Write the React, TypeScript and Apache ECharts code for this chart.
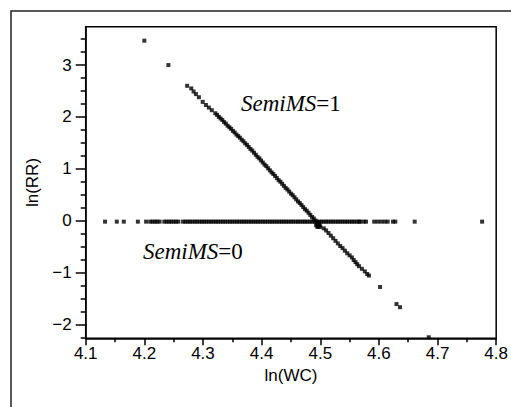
import React, { useEffect, useRef } from 'react';
import * as echarts from 'echarts';

// SemiMS = 0 : points lying on ln(RR) ≈ 0
const semi0Level = -0.02;
const semi0X = [
  4.133, 4.153, 4.165, 4.189, 4.203,
  4.210, 4.214, 4.218, 4.222, 4.226, 4.234, 4.238, 4.242, 4.246, 4.250, 4.254, 4.258,
  4.266, 4.270, 4.274, 4.278, 4.282, 4.286, 4.290, 4.294, 4.298, 4.302, 4.306, 4.310,
  4.314, 4.318, 4.322, 4.326, 4.330, 4.334, 4.338, 4.342, 4.346, 4.350, 4.354, 4.358,
  4.362, 4.366, 4.370, 4.374, 4.378, 4.382, 4.386, 4.390, 4.394, 4.398, 4.402, 4.406,
  4.410, 4.414, 4.418, 4.422, 4.426, 4.430, 4.434, 4.438, 4.442, 4.446, 4.450, 4.454,
  4.458, 4.462, 4.466, 4.470, 4.474, 4.478, 4.482, 4.486, 4.490, 4.494, 4.498, 4.502,
  4.506, 4.510, 4.514, 4.518, 4.522, 4.526, 4.530, 4.534, 4.538, 4.542, 4.546, 4.550,
  4.554, 4.558, 4.562, 4.566, 4.568,
  4.574, 4.578, 4.592, 4.598, 4.604, 4.610, 4.615, 4.624, 4.628, 4.661, 4.776,
];

// SemiMS = 1 : points on the descending line [ln(WC), ln(RR)]
const semi1Points: [number, number][] = [
  [4.200, 3.47], [4.241, 3.00],
  [4.273, 2.60], [4.280, 2.55], [4.284, 2.49], [4.288, 2.44], [4.293, 2.38], [4.2995, 2.29],
  [4.305, 2.23], [4.310, 2.18], [4.315, 2.13], [4.321, 2.07],
  [4.324, 2.04], [4.327, 2.00], [4.330, 1.97], [4.333, 1.94], [4.336, 1.90], [4.339, 1.87],
  [4.342, 1.83], [4.345, 1.80], [4.348, 1.77], [4.351, 1.73], [4.354, 1.70], [4.357, 1.66],
  [4.360, 1.63], [4.363, 1.60], [4.366, 1.56], [4.369, 1.53], [4.372, 1.49], [4.375, 1.46],
  [4.378, 1.42], [4.381, 1.38], [4.384, 1.35], [4.387, 1.31], [4.390, 1.27], [4.393, 1.23],
  [4.396, 1.20], [4.399, 1.16], [4.402, 1.12], [4.405, 1.08], [4.408, 1.05], [4.411, 1.01],
  [4.414, 0.97], [4.417, 0.93], [4.420, 0.90], [4.423, 0.86], [4.426, 0.82], [4.429, 0.78],
  [4.432, 0.75], [4.435, 0.71], [4.438, 0.67], [4.441, 0.63], [4.444, 0.60], [4.447, 0.56],
  [4.450, 0.52], [4.453, 0.49], [4.456, 0.45], [4.459, 0.41], [4.462, 0.37], [4.465, 0.34],
  [4.468, 0.30], [4.471, 0.26], [4.474, 0.22], [4.477, 0.19], [4.480, 0.15], [4.483, 0.11],
  [4.486, 0.07], [4.489, 0.04], [4.492, 0.00],
  [4.494, -0.05], [4.496, -0.09], [4.497, -0.12], [4.499, -0.09], [4.495, -0.12], [4.498, -0.05],
  [4.500, -0.12], [4.493, -0.09],
  [4.506, -0.15], [4.510, -0.19], [4.514, -0.24], [4.518, -0.29], [4.522, -0.34], [4.526, -0.39],
  [4.530, -0.44], [4.534, -0.49], [4.538, -0.53], [4.542, -0.58], [4.546, -0.63], [4.550, -0.67],
  [4.554, -0.71], [4.557, -0.76], [4.560, -0.80], [4.563, -0.84], [4.566, -0.88], [4.571, -0.93],
  [4.576, -0.98], [4.580, -1.03], [4.583, -1.06],
  [4.602, -1.28], [4.630, -1.61], [4.636, -1.67], [4.685, -2.25],
];

const xMin = 4.1;
const xMax = 4.8;
const xInterval = 0.1;
const yMin = -2.27;
const yMax = 3.74;
const yMajorTicks = [-2, -1, 0, 1, 2, 3];
const yMinorTicks = [
  -2.25, -1.75, -1.5, -1.25, -0.75, -0.5, -0.25, 0.25, 0.5, 0.75,
  1.25, 1.5, 1.75, 2.25, 2.5, 2.75, 3.25, 3.5,
];

const SANS = '"Liberation Sans", Arial, sans-serif';
const SERIF = '"Liberation Serif", "Times New Roman", serif';
const LABEL_SIZE = 17;

export default function App() {
  const ref = useRef<HTMLDivElement>(null);

  useEffect(() => {
    if (!ref.current) return;
    const chart = echarts.init(ref.current, undefined, { renderer: 'svg' });
    const rich = {
      i: { fontFamily: SERIF, fontStyle: 'italic', fontSize: 23, fill: '#000' },
      n: { fontFamily: SERIF, fontSize: 23, fill: '#000' },
    };
    chart.setOption({
      animation: false,
      backgroundColor: '#fff',
      grid: {
        left: 85.7,
        top: 26.7,
        right: 10.3,
        bottom: 68.7,
        show: true,
        borderColor: '#000',
        borderWidth: 1.5,
        backgroundColor: 'transparent',
      },
      xAxis: {
        type: 'value',
        min: xMin,
        max: xMax,
        interval: xInterval,
        name: 'ln(WC)',
        nameLocation: 'middle',
        nameGap: 24,
        nameTextStyle: { fontFamily: SANS, fontSize: LABEL_SIZE, color: '#000' },
        axisLine: { show: true, onZero: false, lineStyle: { color: '#000', width: 1.5 } },
        axisTick: { show: true, inside: false, length: 7, lineStyle: { color: '#000', width: 1.5 } },
        minorTick: { show: true, splitNumber: 2, length: 4, lineStyle: { color: '#000', width: 1.5 } },
        splitLine: { show: false },
        axisLabel: {
          fontFamily: SANS,
          fontSize: LABEL_SIZE,
          color: '#000',
          margin: 7,
          showMinLabel: true,
          showMaxLabel: true,
          formatter: (v: number) => v.toFixed(1),
        },
      },
      yAxis: [
        {
          type: 'value',
          min: yMin,
          max: yMax,
          position: 'left',
          name: 'ln(RR)',
          nameLocation: 'middle',
          nameGap: 42,
          nameTextStyle: { fontFamily: SANS, fontSize: LABEL_SIZE, color: '#000' },
          axisLine: { show: true, onZero: false, lineStyle: { color: '#000', width: 1.5 } },
          axisTick: {
            show: true,
            length: 10,
            customValues: yMajorTicks,
            lineStyle: { color: '#000', width: 1.5 },
          },
          splitLine: { show: false },
          axisLabel: {
            customValues: yMajorTicks,
            fontFamily: SANS,
            fontSize: LABEL_SIZE,
            color: '#000',
            margin: 14,
            formatter: (v: number) => (v < 0 ? '\u2212' + Math.abs(v) : String(v)),
          },
        },
        {
          type: 'value',
          min: yMin,
          max: yMax,
          position: 'left',
          offset: 0,
          axisLine: { show: false, onZero: false },
          axisTick: {
            show: true,
            length: 5,
            customValues: yMinorTicks,
            lineStyle: { color: '#000', width: 1.5 },
          },
          splitLine: { show: false },
          axisLabel: { show: false },
        },
      ],
      series: [
        {
          name: 'SemiMS=0',
          type: 'scatter',
          yAxisIndex: 0,
          symbol: 'rect',
          symbolSize: 4,
          itemStyle: { color: '#000' },
          data: semi0X.map((x) => [x, semi0Level]),
        },
        {
          name: 'SemiMS=1',
          type: 'scatter',
          yAxisIndex: 0,
          symbol: 'rect',
          symbolSize: 4,
          itemStyle: { color: '#000' },
          data: semi1Points,
        },
      ],
      graphic: [
        {
          type: 'rect',
          shape: { x: 11, y: 11, width: 600, height: 500 },
          style: { fill: 'none', stroke: '#222', lineWidth: 1.5 },
          silent: true,
        },
        {
          type: 'text',
          x: 241,
          y: 103,
          style: {
            text: '{i|SemiMS}{n|=1}',
            rich,
            verticalAlign: 'middle',
            align: 'left',
          },
          silent: true,
        },
        {
          type: 'text',
          x: 143,
          y: 251.5,
          style: {
            text: '{i|SemiMS}{n|=0}',
            rich,
            verticalAlign: 'middle',
            align: 'left',
          },
          silent: true,
        },
      ],
    });
    return () => chart.dispose();
  }, []);

  return (
    <div
      ref={ref}
      style={{ position: 'fixed', left: 0, top: 0, width: 511, height: 407, background: '#fff' }}
    />
  );
}
